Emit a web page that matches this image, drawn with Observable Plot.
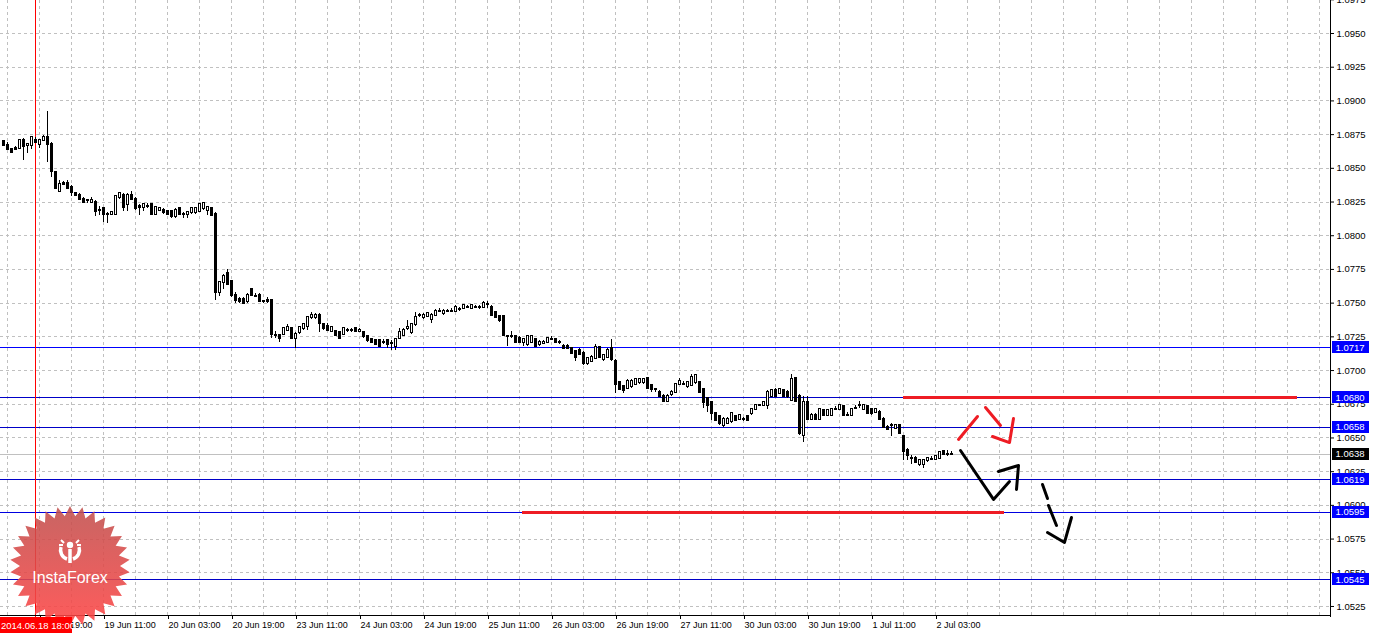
<!DOCTYPE html>
<html><head><meta charset="utf-8">
<script src="https://cdn.jsdelivr.net/npm/d3@7"></script>
<script src="https://cdn.jsdelivr.net/npm/@observablehq/plot@0.6"></script>
<style>html,body{margin:0;padding:0;background:#fff;overflow:hidden}svg{display:block}</style>
</head><body><div id="chart"></div>
<script>
// EURUSD-style H1 candles, bar index 0 = 18 Jun 19:00
const firstBar = -9;
const opens = [
1.0870,1.0867,1.0864,1.0865,1.0865,1.0871,1.0867,1.0867,1.0871,1.0868,
1.0871,1.0873,1.0868,1.0847,1.0833,1.0839,1.0839,1.0836,1.0831,1.0830,
1.0827,1.0826,1.0825,1.0825,1.0819,1.0820,1.0816,1.0816,1.0816,1.0828,
1.0830,1.0823,1.0830,1.0827,1.0822,1.0821,1.0822,1.0823,1.0816,1.0819,
1.0819,1.0818,1.0818,1.0814,1.0820,1.0816,1.0816,1.0817,1.0817,1.0818,
1.0820,1.0819,1.0820,1.0816,1.0758,1.0765,1.0772,1.0766,1.0756,1.0753,
1.0753,1.0751,1.0760,1.0755,1.0756,1.0751,1.0752,1.0752,1.0726,1.0726,
1.0727,1.0730,1.0731,1.0724,1.0728,1.0731,1.0733,1.0739,1.0739,1.0741,
1.0734,1.0733,1.0729,1.0729,1.0728,1.0727,1.0730,1.0730,1.0731,1.0729,
1.0728,1.0725,1.0723,1.0722,1.0722,1.0721,1.0722,1.0720,1.0718,1.0724,
1.0726,1.0731,1.0728,1.0734,1.0741,1.0739,1.0740,1.0738,1.0741,1.0744,
1.0742,1.0744,1.0744,1.0744,1.0745,1.0746,1.0747,1.0746,1.0747,1.0747,
1.0747,1.0749,1.0747,1.0743,1.0740,1.0740,1.0725,1.0725,1.0725,1.0724,
1.0721,1.0719,1.0721,1.0723,1.0719,1.0720,1.0721,1.0723,1.0723,1.0721,
1.0718,1.0718,1.0716,1.0714,1.0715,1.0713,1.0705,1.0707,1.0709,1.0717,
1.0708,1.0710,1.0716,1.0707,1.0691,1.0688,1.0687,1.0688,1.0690,1.0691,
1.0691,1.0694,1.0689,1.0686,1.0684,1.0681,1.0677,1.0682,1.0684,1.0690,
1.0690,1.0688,1.0689,1.0691,1.0691,1.0686,1.0679,1.0676,1.0668,1.0666,
1.0659,1.0661,1.0662,1.0666,1.0664,1.0664,1.0666,1.0668,1.0671,1.0674,
1.0674,1.0674,1.0681,1.0685,1.0683,1.0685,1.0684,1.0678,1.0694,1.0681,
1.0652,1.0676,1.0664,1.0667,1.0664,1.0670,1.0667,1.0667,1.0671,1.0671,
1.0673,1.0667,1.0667,1.0672,1.0674,1.0671,1.0673,1.0671,1.0669,1.0669,
1.0664,1.0658,1.0659,1.0657,1.0659,1.0651,1.0641,1.0635,1.0635,1.0630,
1.0630,1.0633,1.0634,1.0634,1.0635,1.0640,1.0638,1.0638];
const highs = [
1.0871,1.0869,1.0865,1.0866,1.0871,1.0872,1.0868,1.0873,1.0873,1.0871,
1.0874,1.0892,1.0869,1.0848,1.0841,1.0840,1.0841,1.0837,1.0832,1.0831,
1.0828,1.0827,1.0828,1.0826,1.0822,1.0821,1.0817,1.0818,1.0830,1.0832,
1.0831,1.0831,1.0833,1.0828,1.0823,1.0824,1.0824,1.0824,1.0821,1.0821,
1.0820,1.0819,1.0819,1.0820,1.0821,1.0817,1.0817,1.0821,1.0821,1.0824,
1.0825,1.0822,1.0821,1.0817,1.0766,1.0771,1.0775,1.0767,1.0758,1.0754,
1.0754,1.0757,1.0761,1.0757,1.0757,1.0752,1.0754,1.0753,1.0729,1.0727,
1.0731,1.0734,1.0732,1.0728,1.0733,1.0734,1.0739,1.0743,1.0742,1.0742,
1.0735,1.0735,1.0732,1.0730,1.0729,1.0732,1.0731,1.0731,1.0732,1.0731,
1.0729,1.0726,1.0724,1.0723,1.0723,1.0723,1.0723,1.0722,1.0723,1.0731,
1.0731,1.0737,1.0734,1.0743,1.0742,1.0742,1.0743,1.0742,1.0745,1.0746,
1.0745,1.0745,1.0746,1.0748,1.0747,1.0749,1.0748,1.0749,1.0748,1.0748,
1.0751,1.0751,1.0748,1.0744,1.0741,1.0741,1.0726,1.0729,1.0726,1.0725,
1.0723,1.0725,1.0726,1.0724,1.0722,1.0722,1.0724,1.0725,1.0724,1.0722,
1.0719,1.0719,1.0717,1.0715,1.0716,1.0714,1.0710,1.0711,1.0719,1.0718,
1.0712,1.0716,1.0723,1.0708,1.0692,1.0689,1.0693,1.0693,1.0694,1.0694,
1.0694,1.0695,1.0690,1.0687,1.0685,1.0682,1.0682,1.0685,1.0690,1.0694,
1.0692,1.0692,1.0697,1.0697,1.0692,1.0687,1.0680,1.0677,1.0669,1.0667,
1.0665,1.0665,1.0669,1.0667,1.0667,1.0665,1.0667,1.0671,1.0675,1.0675,
1.0676,1.0685,1.0686,1.0687,1.0687,1.0686,1.0685,1.0697,1.0695,1.0682,
1.0681,1.0681,1.0668,1.0668,1.0671,1.0671,1.0671,1.0672,1.0673,1.0674,
1.0674,1.0669,1.0672,1.0674,1.0677,1.0675,1.0674,1.0672,1.0671,1.0670,
1.0665,1.0659,1.0661,1.0660,1.0660,1.0652,1.0642,1.0637,1.0636,1.0633,
1.0633,1.0635,1.0636,1.0637,1.0640,1.0641,1.0641,1.0640];
const lows = [
1.0866,1.0864,1.0861,1.0863,1.0864,1.0856,1.0861,1.0864,1.0869,1.0865,
1.0870,1.0854,1.0843,1.0834,1.0832,1.0837,1.0835,1.0829,1.0829,1.0826,
1.0824,1.0824,1.0824,1.0814,1.0815,1.0810,1.0809,1.0815,1.0815,1.0827,
1.0818,1.0818,1.0826,1.0819,1.0815,1.0818,1.0820,1.0815,1.0815,1.0818,
1.0816,1.0816,1.0813,1.0813,1.0815,1.0813,1.0813,1.0816,1.0816,1.0817,
1.0819,1.0815,1.0814,1.0752,1.0755,1.0760,1.0764,1.0754,1.0750,1.0750,
1.0749,1.0750,1.0755,1.0754,1.0751,1.0750,1.0750,1.0724,1.0724,1.0721,
1.0726,1.0729,1.0723,1.0716,1.0727,1.0730,1.0730,1.0738,1.0738,1.0728,
1.0730,1.0729,1.0728,1.0725,1.0723,1.0726,1.0728,1.0728,1.0728,1.0728,
1.0724,1.0721,1.0720,1.0719,1.0717,1.0719,1.0716,1.0715,1.0715,1.0723,
1.0725,1.0730,1.0727,1.0733,1.0739,1.0738,1.0739,1.0735,1.0741,1.0743,
1.0741,1.0743,1.0743,1.0743,1.0744,1.0746,1.0746,1.0745,1.0746,1.0745,
1.0746,1.0746,1.0741,1.0739,1.0736,1.0725,1.0718,1.0724,1.0720,1.0720,
1.0718,1.0718,1.0720,1.0718,1.0718,1.0719,1.0720,1.0722,1.0720,1.0719,
1.0716,1.0716,1.0712,1.0707,1.0711,1.0704,1.0704,1.0706,1.0708,1.0709,
1.0707,1.0709,1.0707,1.0683,1.0685,1.0683,1.0686,1.0687,1.0689,1.0690,
1.0690,1.0687,1.0684,1.0684,1.0680,1.0677,1.0676,1.0681,1.0683,1.0689,
1.0689,1.0687,1.0688,1.0690,1.0684,1.0672,1.0669,1.0663,1.0663,1.0659,
1.0658,1.0660,1.0661,1.0662,1.0663,1.0662,1.0662,1.0667,1.0670,1.0673,
1.0673,1.0671,1.0680,1.0680,1.0682,1.0680,1.0679,1.0677,1.0676,1.0652,
1.0647,1.0664,1.0663,1.0663,1.0663,1.0666,1.0666,1.0666,1.0670,1.0670,
1.0666,1.0666,1.0666,1.0671,1.0672,1.0670,1.0668,1.0667,1.0668,1.0664,
1.0658,1.0656,1.0651,1.0656,1.0653,1.0633,1.0633,1.0630,1.0631,1.0629,
1.0627,1.0632,1.0633,1.0633,1.0634,1.0637,1.0636,1.0637];
const closes = [
1.0867,1.0864,1.0862,1.0864,1.0871,1.0866,1.0868,1.0873,1.0869,1.0871,
1.0873,1.0868,1.0848,1.0835,1.0838,1.0838,1.0835,1.0832,1.0830,1.0827,
1.0825,1.0826,1.0826,1.0818,1.0819,1.0816,1.0816,1.0817,1.0829,1.0831,
1.0821,1.0830,1.0827,1.0820,1.0821,1.0823,1.0822,1.0816,1.0821,1.0820,
1.0817,1.0816,1.0814,1.0819,1.0816,1.0816,1.0817,1.0820,1.0820,1.0823,
1.0824,1.0821,1.0815,1.0758,1.0765,1.0770,1.0764,1.0756,1.0752,1.0751,
1.0750,1.0756,1.0756,1.0755,1.0751,1.0751,1.0751,1.0727,1.0726,1.0724,
1.0731,1.0732,1.0724,1.0727,1.0732,1.0734,1.0739,1.0741,1.0741,1.0735,
1.0731,1.0730,1.0732,1.0726,1.0724,1.0731,1.0730,1.0730,1.0729,1.0730,
1.0725,1.0722,1.0721,1.0719,1.0718,1.0721,1.0719,1.0720,1.0723,1.0728,
1.0730,1.0732,1.0734,1.0739,1.0741,1.0741,1.0742,1.0741,1.0744,1.0744,
1.0744,1.0744,1.0744,1.0747,1.0745,1.0748,1.0747,1.0748,1.0747,1.0747,
1.0750,1.0749,1.0741,1.0739,1.0737,1.0726,1.0725,1.0725,1.0721,1.0721,
1.0723,1.0725,1.0725,1.0718,1.0721,1.0721,1.0724,1.0723,1.0721,1.0721,
1.0716,1.0716,1.0713,1.0710,1.0712,1.0705,1.0709,1.0710,1.0717,1.0710,
1.0711,1.0715,1.0708,1.0690,1.0686,1.0685,1.0692,1.0692,1.0693,1.0693,
1.0693,1.0687,1.0686,1.0686,1.0681,1.0677,1.0681,1.0684,1.0690,1.0692,
1.0690,1.0691,1.0695,1.0696,1.0684,1.0676,1.0674,1.0668,1.0663,1.0661,
1.0664,1.0664,1.0668,1.0663,1.0667,1.0664,1.0663,1.0671,1.0674,1.0674,
1.0676,1.0684,1.0685,1.0681,1.0686,1.0681,1.0681,1.0693,1.0677,1.0653,
1.0676,1.0664,1.0667,1.0664,1.0671,1.0667,1.0670,1.0671,1.0671,1.0674,
1.0667,1.0667,1.0671,1.0672,1.0674,1.0674,1.0668,1.0668,1.0671,1.0664,
1.0658,1.0656,1.0659,1.0659,1.0653,1.0640,1.0637,1.0635,1.0632,1.0633,
1.0633,1.0635,1.0634,1.0636,1.0639,1.0638,1.0638,1.0638];

const priceTicks = [1.0525,1.0550,1.0575,1.0600,1.0625,1.0650,1.0675,1.0700,1.0725,1.0750,
  1.0775,1.0800,1.0825,1.0850,1.0875,1.0900,1.0925,1.0950,1.0975];
const timeTicks = [0,16,32,48,64,80,96,112,128,144,160,176,192,208,224];
const timeLabels = ["18 Jun 19:00","19 Jun 11:00","20 Jun 03:00","20 Jun 19:00","23 Jun 11:00",
  "24 Jun 03:00","24 Jun 19:00","25 Jun 11:00","26 Jun 03:00","26 Jun 19:00","27 Jun 11:00",
  "30 Jun 03:00","30 Jun 19:00","1 Jul 11:00","2 Jul 03:00"];
const blueLevels = [1.0717,1.0680,1.0658,1.0619,1.0595,1.0545];
const blueLevelColors = ["#0000ff","#0000c8","#0000c8","#0000c8","#0000e0","#0000c8"];
const currentPrice = 1.0638;
const markerBar = -1; // 2014.06.18 18:00
const markerLabel = "2014.06.18 18:00";
const redLevelPrice = [1.0680, 1.0595];
const redLevelFrom = [216, 120.75];
const redLevelTo = [314.5, 241.25];
// hand-drawn forecast strokes: [bar, price, stroke id]
const redStrokes = [
  [229.75,1.06489,"a"],[234.5,1.06659,"a"],
  [236.5,1.06726,"b"],[240.25,1.06593,"b"],
  [238.25,1.06511,"c"],[242.5,1.06466,"c"],[243.5,1.06644,"c"]];
const blackStrokes = [
  [230.25,1.06407,"a"],[238.5,1.06044,"a"],[242.5,1.06177,"a"],
  [239.75,1.06251,"b"],[244.75,1.06296,"b"],[244.25,1.06118,"b"],
  [250.75,1.06155,"c"],[252,1.06051,"c"],
  [252.25,1.05999,"d"],[254.25,1.05851,"d"],
  [252,1.05799,"e"],[256.25,1.05725,"e"],[258,1.0591,"e"]];

const candles = opens.map((o, k) => ({i: firstBar + k, open: o, high: highs[k], low: lows[k], close: closes[k]}));
const up = candles.filter(d => d.close >= d.open);
const down = candles.filter(d => d.close < d.open);
const xDom = [-9.75, 322.75];
const yDom = [1.051831, 1.097448];
const gridBars = d3.range(-8, 321, 8);
const redSegs = redLevelPrice.map((p, k) => ({p, a: redLevelFrom[k], b: redLevelTo[k]}));
const levelLines = blueLevels.map((p, k) => ({p, c: blueLevelColors[k]}));
const labelBoxes = blueLevels.map(p => ({p, bg: "#0000ff"})).concat([{p: currentPrice, bg: "#000000"}]);
const toPts = arr => arr.map(([i, p, g]) => ({i, p, g}));
const boxHalf = 0.00044;
const crisp = {shapeRendering: "crispEdges"};

const chart = Plot.plot({
  width: 1373, height: 634,
  marginLeft: 0, marginRight: 43, marginTop: 0, marginBottom: 19,
  x: {type: "linear", domain: xDom, axis: null},
  y: {type: "linear", domain: yDom, axis: null},
  style: {fontFamily: "'Liberation Sans', Arial, sans-serif", fontSize: "9px", color: "#000", background: "#fff", overflow: "visible"},
  marks: [
    Plot.ruleX(gridBars, {stroke: "#c0c0c0", strokeOpacity: 1, strokeDasharray: "3,3", y1: yDom[0], y2: yDom[1], ...crisp}),
    Plot.ruleY(priceTicks, {stroke: "#c0c0c0", strokeOpacity: 1, strokeDasharray: "3,3", x1: xDom[0], x2: xDom[1], ...crisp}),
    Plot.ruleY([currentPrice], {stroke: "#c0c0c0", x1: xDom[0], x2: xDom[1], ...crisp}),
    ...levelLines.map(l => Plot.ruleY([l.p], {stroke: l.c, x1: xDom[0], x2: xDom[1], ...crisp})),
    Plot.ruleX([markerBar], {stroke: "#ff0000", y1: 1.0505, y2: yDom[1], ...crisp}),
    Plot.ruleY(redSegs, {y: "p", x1: "a", x2: "b", stroke: "#ee1c24", strokeWidth: 3, ...crisp}),
    Plot.ruleX(candles, {x: "i", y1: "low", y2: "high", stroke: "#000", ...crisp}),
    Plot.rect(up, {x1: d => d.i - 0.25, x2: d => d.i + 0.25, y1: "open", y2: "close", fill: "#fff", stroke: "#000", insetTop: -0.5, insetBottom: -0.5, ...crisp}),
    Plot.rect(down, {x1: d => d.i - 0.25, x2: d => d.i + 0.25, y1: "open", y2: "close", fill: "#000", stroke: "#000", insetTop: -0.5, insetBottom: -0.5, ...crisp}),
    Plot.line(toPts(redStrokes), {x: "i", y: "p", z: "g", stroke: "#ee1c24", strokeWidth: 3, strokeLinecap: "round", strokeLinejoin: "round"}),
    Plot.line(toPts(blackStrokes), {x: "i", y: "p", z: "g", stroke: "#000", strokeWidth: 3, strokeLinecap: "round", strokeLinejoin: "round"}),
    Plot.ruleX([xDom[1]], {stroke: "#000", y1: 1.05165, y2: yDom[1], ...crisp}),
    Plot.ruleY([yDom[0]], {stroke: "#000", x1: xDom[0], x2: xDom[1], ...crisp}),
    Plot.axisY({ticks: priceTicks, anchor: "right", tickSize: 3, tickPadding: 3, tickFormat: d => d.toFixed(4), label: null, fontSize: 9.5}),
    Plot.axisX({ticks: timeTicks, anchor: "bottom", tickSize: 4, tickPadding: 2, tickFormat: d => timeLabels[timeTicks.indexOf(d)], textAnchor: "start", dx: 1, label: null, fontSize: 9}),
    Plot.rect(labelBoxes, {x1: 323.25, x2: 332.5, y1: d => d.p - boxHalf, y2: d => d.p + boxHalf, fill: "bg", ...crisp}),
    Plot.text(labelBoxes, {x: 323.25, y: "p", text: d => d.p.toFixed(4), fill: "#fff", textAnchor: "start", dx: 3, fontSize: 9.5})
  ]
});
document.getElementById("chart").appendChild(chart);

// InstaForex watermark
const svg = d3.select(chart);
const defs = svg.append("defs");
const grad = defs.append("linearGradient").attr("id", "starGrad").attr("x1", 0).attr("y1", 0).attr("x2", 0).attr("y2", 1);
grad.append("stop").attr("offset", "0%").attr("stop-color", "#c0504e");
grad.append("stop").attr("offset", "100%").attr("stop-color", "#ff4545");
const cx = 70, cy = 566, R = 60, r = 50, N = 30;
const starPts = d3.range(2 * N).map(k => {
  const a = Math.PI * k / N - Math.PI / 2;
  const rad = k % 2 === 0 ? R : r;
  return [cx + rad * Math.cos(a), cy + rad * Math.sin(a)];
});
const logo = svg.append("g");
logo.append("polygon").attr("points", starPts.map(p => p.join(",")).join(" ")).attr("fill", "url(#starGrad)").attr("opacity", 0.88);
const icon = logo.append("g").attr("transform", `translate(${cx},551)`).attr("fill", "none").attr("stroke", "#fff");
icon.append("path").attr("d", "M-9,-4 A9.5,9.5 0 0 0 -3,8").attr("stroke-width", 3.5);
icon.append("path").attr("d", "M9,-4 A9.5,9.5 0 0 1 3,8").attr("stroke-width", 3.5);
icon.append("circle").attr("cx", 0).attr("cy", -6).attr("r", 3.2).attr("fill", "#fff").attr("stroke", "none");
icon.append("path").attr("d", "M0,-2 L0,12").attr("stroke-width", 3.5);
icon.append("path").attr("d", "M-11,-6 L-7,-6 M7,-6 L11,-6 M-9,-11 L-6,-8 M9,-11 L6,-8").attr("stroke-width", 2);
logo.append("text").attr("x", cx).attr("y", 583).attr("text-anchor", "middle").attr("fill", "#fff")
  .attr("font-family", "'Liberation Sans', Arial, sans-serif").attr("font-size", 16).text("InstaForex");
// time marker label on top of the watermark
const lbl = svg.append("g");
lbl.append("rect").attr("x", 0).attr("y", 617).attr("width", 72).attr("height", 16).attr("fill", "#ff0000").attr("shape-rendering", "crispEdges");
lbl.append("text").attr("x", 1).attr("y", 629).attr("text-anchor", "start").attr("fill", "#fff")
  .attr("font-family", "'Liberation Sans', Arial, sans-serif").attr("font-size", 9.5).text(markerLabel);
</script>
</body></html>
